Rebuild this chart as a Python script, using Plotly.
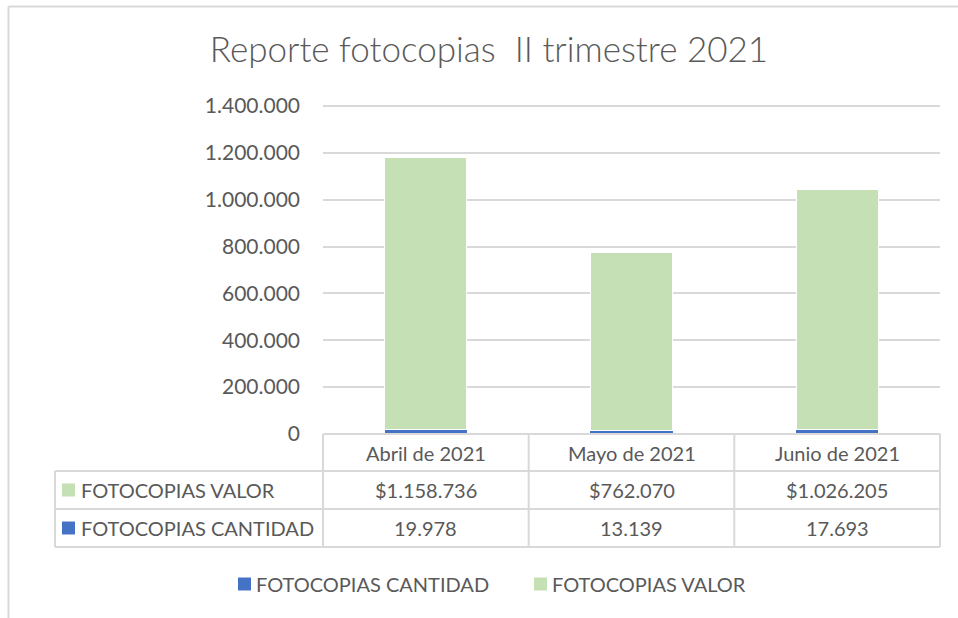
import plotly.graph_objects as go

# ---- data ----
categories = ["Abril de 2021", "Mayo de 2021", "Junio de 2021"]
cantidad = [19978, 13139, 17693]
valor = [1158736, 762070, 1026205]
series_names = ["FOTOCOPIAS CANTIDAD", "FOTOCOPIAS VALOR"]
y_ticks = [0, 200000, 400000, 600000, 800000, 1000000, 1200000, 1400000]
title_text = "Reporte fotocopias \u00a0II trimestre 2021"

# ---- style ----
W, H = 958, 618
BLUE = "#4472C4"
GREEN = "#C5E0B4"
GRID = "#D9D9D9"
TXT = "#595959"
FONT = "Lato"
FS = 20


def px(x):
    return x / W


def py(y):
    return 1 - y / H


def fmt(v, prefix=""):
    return prefix + f"{v:,}".replace(",", ".")


PLOT_L, PLOT_R, PLOT_T, PLOT_B = 323, 940, 106, 434
ROW1, ROW2, ROW3 = 471, 509, 547
TABLE_L = 55
TOP_PAD = 3  # extra px above top tick so its gridline is kept

fig = go.Figure()
fig.add_trace(go.Bar(x=categories, y=cantidad, name=series_names[0],
                     marker=dict(color=BLUE, line=dict(width=0))))
fig.add_trace(go.Bar(x=categories, y=valor, name=series_names[1],
                     marker=dict(color=GREEN, line=dict(width=1, color="white"))))

shapes = []
annotations = []

# outer chart border (top + left visible)
shapes.append(dict(type="line", xref="paper", yref="paper", x0=px(8.5), x1=1,
                   y0=py(6.5), y1=py(6.5), line=dict(color=GRID, width=2)))
shapes.append(dict(type="line", xref="paper", yref="paper", x0=px(8.5), x1=px(8.5),
                   y0=py(6.5), y1=0, line=dict(color=GRID, width=2)))

# data table lines
hl = [(PLOT_L, PLOT_B), (TABLE_L, ROW1), (TABLE_L, ROW2), (TABLE_L, ROW3)]
for x0, y in hl:
    shapes.append(dict(type="line", xref="paper", yref="paper", x0=px(x0), x1=px(PLOT_R),
                       y0=py(y), y1=py(y), line=dict(color=GRID, width=2)))
ncat = len(categories)
for i in range(ncat + 1):
    x = PLOT_L + (PLOT_R - PLOT_L) * i / ncat
    shapes.append(dict(type="line", xref="paper", yref="paper", x0=px(x), x1=px(x),
                       y0=py(PLOT_B), y1=py(ROW3), line=dict(color=GRID, width=2)))
shapes.append(dict(type="line", xref="paper", yref="paper", x0=px(TABLE_L), x1=px(TABLE_L),
                   y0=py(ROW1), y1=py(ROW3), line=dict(color=GRID, width=2)))

# table contents
for i, c in enumerate(categories):
    annotations.append(dict(x=c, xref="x", y=py((PLOT_B + ROW1) / 2), yref="paper",
                            text=c, showarrow=False, xanchor="center", yanchor="middle",
                            font=dict(family=FONT, size=FS, color=TXT)))
    annotations.append(dict(x=c, xref="x", y=py((ROW1 + ROW2) / 2), yref="paper",
                            text=fmt(valor[i], "$"), showarrow=False, xanchor="center",
                            yanchor="middle", font=dict(family=FONT, size=FS, color=TXT)))
    annotations.append(dict(x=c, xref="x", y=py((ROW2 + ROW3) / 2), yref="paper",
                            text=fmt(cantidad[i]), showarrow=False, xanchor="center",
                            yanchor="middle", font=dict(family=FONT, size=FS, color=TXT)))

# row labels with keys
rows = [((ROW1 + ROW2) / 2, GREEN, series_names[1]), ((ROW2 + ROW3) / 2, BLUE, series_names[0])]
for yc, col, name in rows:
    shapes.append(dict(type="rect", xref="paper", yref="paper", x0=px(62), x1=px(75),
                       y0=py(yc - 6.5), y1=py(yc + 6.5), fillcolor=col, line=dict(width=0)))
    annotations.append(dict(x=px(79), xref="paper", y=py(yc), yref="paper", text=name,
                            showarrow=False, xanchor="left", yanchor="middle",
                            font=dict(family=FONT, size=FS, color=TXT)))

# bottom legend
leg = [(238, BLUE, series_names[0]), (534, GREEN, series_names[1])]
LEG_Y = 584
for x0, col, name in leg:
    shapes.append(dict(type="rect", xref="paper", yref="paper", x0=px(x0), x1=px(x0 + 13),
                       y0=py(LEG_Y - 6.5), y1=py(LEG_Y + 6.5), fillcolor=col, line=dict(width=0)))
    annotations.append(dict(x=px(x0 + 16), xref="paper", y=py(LEG_Y), yref="paper", text=name,
                            showarrow=False, xanchor="left", yanchor="middle",
                            font=dict(family=FONT, size=FS, color=TXT)))

y_max = y_ticks[-1] * (1 + TOP_PAD / (PLOT_B - PLOT_T))

fig.update_layout(
    template="none",
    width=W, height=H, autosize=False,
    margin=dict(l=0, r=0, t=0, b=0, pad=0, autoexpand=False),
    paper_bgcolor="white", plot_bgcolor="white",
    barmode="stack", bargap=0.6,
    showlegend=False,
    separators=",.",
    title=dict(text=title_text, x=px(489), xanchor="center", y=py(50), yanchor="middle",
               font=dict(family=FONT, size=35, color=TXT, weight=300)),
    xaxis=dict(domain=[px(PLOT_L), px(PLOT_R)], showticklabels=False, showgrid=False,
               zeroline=False, showline=False, ticks="", automargin=False),
    yaxis=dict(domain=[py(PLOT_B), py(PLOT_T - TOP_PAD)], range=[0, y_max],
               tickvals=y_ticks,
               tickformat=",.0f", showgrid=True, gridcolor=GRID, gridwidth=1.5,
               zeroline=False, showline=False, ticks="", ticklabelstandoff=22,
               automargin=False,
               tickfont=dict(family=FONT, size=21, color=TXT)),
    shapes=shapes,
    annotations=annotations,
)

fig.write_html("out.html", config={"displayModeBar": False},
               post_script="document.body.style.margin='0';document.body.style.overflow='hidden';")
